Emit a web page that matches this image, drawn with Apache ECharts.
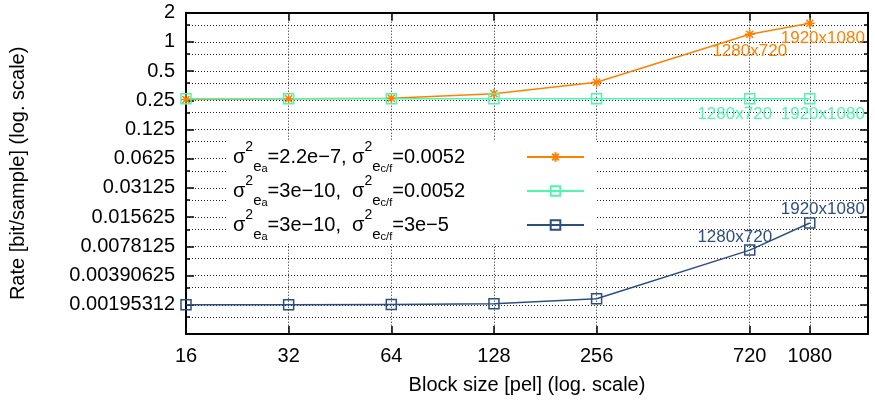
<!DOCTYPE html>
<html>
<head>
<meta charset="utf-8">
<script src="https://cdn.jsdelivr.net/npm/echarts@6/dist/echarts.min.js"></script>
<style>
  html, body { margin: 0; padding: 0; background: #fff; }
  #chart { width: 875px; height: 402px; }
</style>
</head>
<body>
<div id="chart"></div>
<script>
// block sizes (pel), x axis
const blockSizes = [16, 32, 64, 128, 256, 720, 1080];
const pointLabels = ['', '', '', '', '', '1280x720', '1920x1080'];

// rates [bit/sample]
const rateA = [0.255, 0.26, 0.263, 0.292, 0.384, 1.2, 1.56];              // σ²ea=2.2e-7, σ²ec/f=0.0052
const rateB = [0.26, 0.26, 0.26, 0.26, 0.26, 0.26, 0.26];                 // σ²ea=3e-10,  σ²ec/f=0.0052
const rateC = [0.00195, 0.00195, 0.00197, 0.002, 0.00225, 0.00715, 0.0136]; // σ²ea=3e-10,  σ²ec/f=3e-5

// tick values / labels
const xTickValues = [16, 32, 64, 128, 256, 720, 1080];
const yTickValues = [0.001953125, 0.00390625, 0.0078125, 0.015625, 0.03125, 0.0625, 0.125, 0.25, 0.5, 1, 2];
const yTickLabels = ['0.00195312', '0.00390625', '0.0078125', '0.015625', '0.03125', '0.0625', '0.125', '0.25', '0.5', '1', '2'];

const seriesNames = ['rateA', 'rateB', 'rateC'];
const legendTexts = {
  rateA: '{m|σ}{p|2}{b|e}{bb|a}{m|=2.2e\u22127, σ}{p|2}{b|e}{bb|c/f}{m|=0.0052}',
  rateB: '{m|σ}{p|2}{b|e}{bb|a}{m|=3e\u221210,  σ}{p|2}{b|e}{bb|c/f}{m|=0.0052}',
  rateC: '{m|σ}{p|2}{b|e}{bb|a}{m|=3e\u221210,  σ}{p|2}{b|e}{bb|c/f}{m|=3e\u22125}'
};

const FONT = 'Liberation Sans, Arial, sans-serif';
const gridLine = { color: '#222', width: 1, type: [1, 2] };
const asterisk = 'path://M0,5L10,5M5,0L5,10M1.5,1.5L8.5,8.5M8.5,1.5L1.5,8.5';

function yLabel(v) {
  for (let i = 0; i < yTickValues.length; i++) {
    if (Math.abs(Math.log2(v) - Math.log2(yTickValues[i])) < 1e-6) return yTickLabels[i];
  }
  return '';
}

function makeSeries(name, values, color, symbol, offsets) {
  return {
    name: name,
    type: 'line',
    xAxisIndex: 0,
    yAxisIndex: 0,
    symbol: symbol,
    symbolSize: 10,
    showAllSymbol: true,
    lineStyle: { color: color, width: 1.5 },
    itemStyle: { color: 'rgba(255,255,255,0)', borderColor: color, borderWidth: 1.5 },
    label: { color: color, fontFamily: FONT, fontSize: 17, position: 'inside' },
    emphasis: { disabled: true },
    data: blockSizes.map((x, i) => ({
      value: [x, values[i]],
      label: pointLabels[i]
        ? { show: true, formatter: pointLabels[i], offset: offsets[i - 5] }
        : { show: false }
    }))
  };
}

const chart = echarts.init(document.getElementById('chart'));

const option = {
  backgroundColor: '#fff',
  animation: false,
  grid: { left: 184.5, right: 7, top: 12.7, bottom: 68 },
  legend: {
    orient: 'vertical',
    align: 'right',
    left: 228,
    top: 140,
    padding: [0, 12, 2, 5],
    backgroundColor: '#fff',
    itemGap: 0,
    itemWidth: 57,
    itemHeight: 12,
    z: 10,
    selectedMode: false,
    data: seriesNames,
    formatter: (name) => legendTexts[name],
    textStyle: {
      width: 289,
      color: '#000',
      fontFamily: FONT,
      rich: {
        m: { fontSize: 20, lineHeight: 34, fontFamily: FONT, align: 'left' },
        p: { fontSize: 14, lineHeight: 14, fontFamily: FONT, verticalAlign: 'top', align: 'left' },
        b: { fontSize: 15, lineHeight: 18, fontFamily: FONT, verticalAlign: 'bottom', align: 'left' },
        bb: { fontSize: 11, lineHeight: 6, fontFamily: FONT, verticalAlign: 'bottom', align: 'left' }
      }
    }
  },
  xAxis: [{
    type: 'log',
    logBase: 2,
    min: 16,
    max: 1600,
    name: 'Block size [pel] (log. scale)',
    nameLocation: 'middle',
    nameGap: 41,
    nameTextStyle: { fontFamily: FONT, fontSize: 20, color: '#000' },
    axisLine: { lineStyle: { color: '#000', width: 2 } },
    axisTick: { inside: true, length: 8, lineStyle: { width: 1.5 }, customValues: xTickValues },
    axisLabel: {
      customValues: xTickValues, formatter: (v) => String(Math.round(v)),
      fontFamily: FONT, fontSize: 20, color: '#000', margin: 12
    },
    splitLine: { show: true, lineStyle: gridLine }
  }, {
    type: 'log',
    logBase: 2,
    min: 16,
    max: 1600,
    position: 'top',
    axisLine: { lineStyle: { color: '#000', width: 2 } },
    axisTick: { inside: true, length: 8, lineStyle: { width: 1.5 }, customValues: xTickValues },
    axisLabel: { show: false },
    splitLine: { show: false }
  }],
  yAxis: [{
    type: 'log',
    logBase: 2,
    min: 0.0009765625,
    max: 2,
    interval: 1,
    name: 'Rate [bit/sample] (log. scale)',
    nameLocation: 'middle',
    nameGap: 158,
    nameTextStyle: { fontFamily: FONT, fontSize: 20, color: '#000' },
    axisLine: { show: true, lineStyle: { color: '#000', width: 2 } },
    axisTick: { show: true, inside: true, length: 8, lineStyle: { width: 1.5 } },
    minorTick: { show: true, splitNumber: 2, length: 4, lineStyle: { color: '#000', width: 1.5 } },
    axisLabel: { formatter: yLabel, fontFamily: FONT, fontSize: 20, color: '#000', margin: 11 },
    splitLine: { show: true, lineStyle: gridLine },
    minorSplitLine: { show: true, lineStyle: gridLine }
  }, {
    type: 'log',
    logBase: 2,
    min: 0.0009765625,
    max: 2,
    interval: 1,
    position: 'right',
    axisLine: { show: true, lineStyle: { color: '#000', width: 2 } },
    axisTick: { show: true, inside: true, length: 8, lineStyle: { width: 1.5 } },
    minorTick: { show: true, splitNumber: 2, length: 4, lineStyle: { color: '#000', width: 1.5 } },
    axisLabel: { show: false },
    splitLine: { show: false }
  }],
  series: [
    makeSeries('rateA', rateA, '#ff8000', asterisk, [[0, 17], [13, 15]]),
    makeSeries('rateB', rateB, '#50f5b0', 'rect', [[-15, 16], [13, 16]]),
    makeSeries('rateC', rateC, '#2d4f80', 'rect', [[-15, -13], [13, -14]])
  ]
};

chart.setOption(option);
</script>
</body>
</html>
